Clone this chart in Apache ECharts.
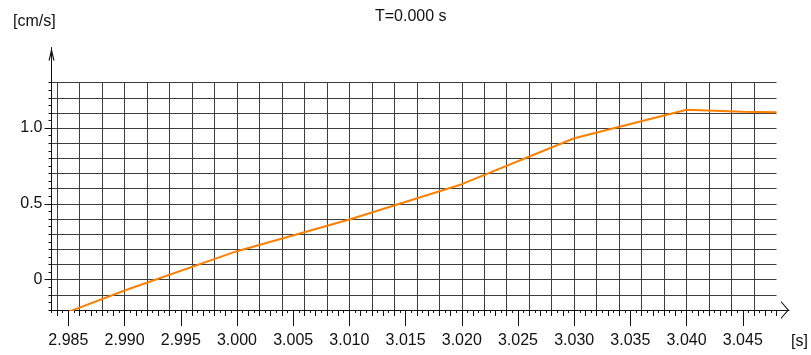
<!DOCTYPE html>
<html>
<head>
<meta charset="utf-8">
<script src="https://cdn.jsdelivr.net/npm/echarts@6/dist/echarts.min.js"></script>
<style>
  html, body { margin: 0; padding: 0; background: #ffffff; }
  #chart { width: 811px; height: 355px; }
</style>
</head>
<body>
<div id="chart"></div>
<script>
// Velocity trace: time in seconds, velocity in cm/s
const timeS       = [2.985, 2.990, 3.000, 3.010, 3.020, 3.030, 3.040, 3.045, 3.048];
const velocityCmS = [-0.212, -0.071, 0.188, 0.397, 0.630, 0.933, 1.121, 1.108, 1.104];

// Axis labels
const xLabelValues = [2.985, 2.990, 2.995, 3.000, 3.005, 3.010, 3.015, 3.020, 3.025, 3.030, 3.035, 3.040, 3.045];
const yLabelValues = [0, 0.5, 1.0];

const titleText = 'T=0.000 s';
const yUnitText = '[cm/s]';
const xUnitText = '[s]';

// Axis extents
const X_MIN = 2.9835, X_MAX = 3.048;
const Y_MIN = -0.2, Y_MAX = 1.3;

// Stepped value lists for grid lines and tick marks
function steps(from, to, step) {
  const out = [];
  const n = Math.round((to - from) / step);
  for (let i = 0; i <= n; i++) out.push(+(from + i * step).toFixed(6));
  return out;
}
const xGridValues = steps(2.984, 3.046, 0.002);
const xMidTickValues = steps(2.984, 3.048, 0.001);

const FONT = '"Liberation Sans", Arial, Helvetica, sans-serif';
const INK = '#111111';
const GRID_COLOR = '#3e3e3e';

const chart = echarts.init(document.getElementById('chart'), null, { renderer: 'canvas' });

const plotGrid = { left: 51.5, right: 34.5, top: 82.6, bottom: 45 };
const frameGrid = { left: 51.5, right: 22, top: 47.5, bottom: 45 };

const hidden = { show: false };
const noLine = { show: false, onZero: false };

function xAxisBase(extra) {
  return Object.assign({ type: 'value', gridIndex: 0, position: 'bottom', offset: 0,
                         min: X_MIN, max: X_MAX, axisLine: noLine }, extra);
}
function yAxisBase(extra) {
  return Object.assign({ type: 'value', gridIndex: 0, position: 'left', offset: 0,
                         min: Y_MIN, max: Y_MAX, axisLine: noLine }, extra);
}

const option = {
  animation: false,
  backgroundColor: '#ffffff',
  textStyle: { fontFamily: FONT },
  title: [
    { text: titleText, left: 375, top: 9, padding: 0,
      textStyle: { fontFamily: FONT, fontSize: 16, fontWeight: 'normal', color: INK } },
    { text: yUnitText, left: 13, top: 14, padding: 0,
      textStyle: { fontFamily: FONT, fontSize: 16, fontWeight: 'normal', color: INK } },
    { text: xUnitText, left: 791, top: 334, padding: 0,
      textStyle: { fontFamily: FONT, fontSize: 16, fontWeight: 'normal', color: INK } }
  ],
  grid: [
    Object.assign({ containLabel: false }, plotGrid),
    Object.assign({ containLabel: false }, frameGrid)
  ],
  xAxis: [
    // fine ticks every 0.0005 s
    xAxisBase({ interval: 0.0005, axisLabel: hidden, splitLine: hidden,
      axisTick: { show: true, length: 3, lineStyle: { color: INK, width: 1 } } }),
    // medium ticks every 0.001 s
    xAxisBase({ axisLabel: hidden, splitLine: hidden,
      axisTick: { show: true, length: 6, customValues: xMidTickValues, lineStyle: { color: INK, width: 1 } } }),
    // labelled ticks
    xAxisBase({ splitLine: hidden,
      axisTick: { show: true, length: 16, customValues: xLabelValues, lineStyle: { color: INK, width: 1 } },
      axisLabel: { show: true, customValues: xLabelValues, margin: 23, fontSize: 16, fontFamily: FONT, color: INK,
                   formatter: v => v.toFixed(3) } }),
    // vertical grid lines every 0.002 s
    xAxisBase({ axisLabel: hidden,
      axisTick: { show: false, customValues: xGridValues },
      splitLine: { show: true, lineStyle: { color: GRID_COLOR, width: 1 } } }),
    // axis line with arrow
    { type: 'value', gridIndex: 1, position: 'bottom', min: 0, max: 1,
      axisTick: hidden, axisLabel: hidden, splitLine: hidden,
      axisLine: { show: true, onZero: false, lineStyle: { color: INK, width: 1 },
                  symbol: ['none', 'path://M0,8 L9,0 L18,8 L16.4,8 L9,1.42 L1.6,8 Z'],
                  symbolSize: [18, 8], symbolOffset: [0, -4] } }
  ],
  yAxis: [
    // horizontal grid lines every 0.1, small ticks every 0.05
    yAxisBase({ interval: 0.1, axisLabel: hidden,
      axisTick: { show: true, length: 3, lineStyle: { color: INK, width: 1 } },
      minorTick: { show: true, splitNumber: 2, length: 3, lineStyle: { color: INK, width: 1 } },
      splitLine: { show: true, lineStyle: { color: GRID_COLOR, width: 1 } } }),
    // labelled ticks
    yAxisBase({ splitLine: hidden,
      axisTick: { show: true, length: 7, customValues: yLabelValues, lineStyle: { color: INK, width: 1 } },
      axisLabel: { show: true, customValues: yLabelValues, margin: 9, fontSize: 16, fontFamily: FONT, color: INK,
                   formatter: v => (v === 0 ? '0' : v.toFixed(1)) } }),
    // axis line with arrow
    { type: 'value', gridIndex: 1, position: 'left', min: 0, max: 1,
      axisTick: hidden, axisLabel: hidden, splitLine: hidden,
      axisLine: { show: true, onZero: false, lineStyle: { color: INK, width: 1 },
                  symbol: ['none', 'path://M0,13 L3,0 L6,13 L4.8,13 L3,5.2 L1.2,13 Z'],
                  symbolSize: [6, 13], symbolOffset: [0, -6.5] } }
  ],
  series: [
    {
      type: 'line',
      xAxisIndex: 0,
      yAxisIndex: 0,
      data: timeS.map((t, i) => [t, velocityCmS[i]]),
      showSymbol: false,
      clip: true,
      lineStyle: { color: '#ff8000', width: 2 },
      z: 5
    }
  ]
};

chart.setOption(option);
</script>
</body>
</html>
